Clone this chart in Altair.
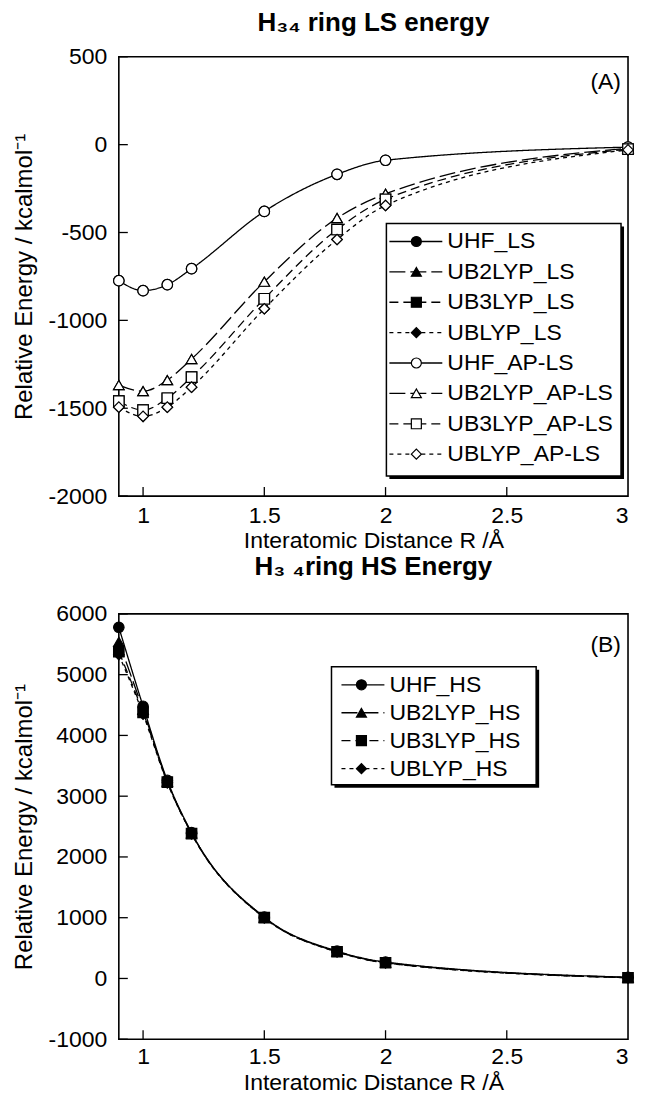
import altair as alt
import pandas as pd

# ---------------- data ----------------
R = [0.9, 1.0, 1.1, 1.2, 1.5, 1.8, 2.0, 3.0]

# Panel A: low-spin energies (kcal/mol)
UHF_LS = [-774, -831, -797, -706, -380, -169, -89, -14]
UB2LYP_LS = [-1368, -1403, -1340, -1220, -780, -418, -280, -20]
UB3LYP_LS = [-1460, -1511, -1443, -1323, -877, -483, -311, -25]
UBLYP_LS = [-1494, -1546, -1494, -1380, -934, -540, -346, -30]
UHF_APLS = [-774, -831, -797, -706, -380, -169, -89, -14]
UB2LYP_APLS = [-1368, -1403, -1340, -1220, -780, -418, -280, -20]
UB3LYP_APLS = [-1460, -1511, -1443, -1323, -877, -483, -311, -25]
UBLYP_APLS = [-1494, -1546, -1494, -1380, -934, -540, -346, -30]

# Panel B: high-spin energies (kcal/mol)
UHF_HS = [5780, 4480, 3260, 2400, 1010, 450, 270, 20]
UB2LYP_HS = [5540, 4420, 3240, 2390, 1000, 440, 262, 15]
UB3LYP_HS = [5380, 4380, 3230, 2385, 1000, 440, 258, 12]
UBLYP_HS = [5330, 4350, 3220, 2380, 995, 436, 255, 10]

methods = ["UHF", "UB2LYP", "UB3LYP", "UBLYP"]
ls_names = ["UHF_LS", "UB2LYP_LS", "UB3LYP_LS", "UBLYP_LS",
            "UHF_AP-LS", "UB2LYP_AP-LS", "UB3LYP_AP-LS", "UBLYP_AP-LS"]
ls_values = [UHF_LS, UB2LYP_LS, UB3LYP_LS, UBLYP_LS,
             UHF_APLS, UB2LYP_APLS, UB3LYP_APLS, UBLYP_APLS]
ls_kinds = ["filled"] * 4 + ["open"] * 4
hs_names = ["UHF_HS", "UB2LYP_HS", "UB3LYP_HS", "UBLYP_HS"]
hs_values = [UHF_HS, UB2LYP_HS, UB3LYP_HS, UBLYP_HS]

x_ticks = [1, 1.5, 2, 2.5, 3]
a_yticks = [-2000, -1500, -1000, -500, 0, 500]
b_yticks = [-1000, 0, 1000, 2000, 3000, 4000, 5000, 6000]

FONT = "Liberation Sans"
LFS = 23   # tick labels
TFS = 23   # axis titles
W = 510


def long_df(names, values, kinds):
    rows = []
    for n, vals, k in zip(names, values, kinds):
        m = n.split("_")[0]
        for r, e in zip(R, vals):
            rows.append({"name": n, "method": m, "kind": k, "R": r, "E": e})
    return pd.DataFrame(rows)


shape_scale = alt.Scale(domain=methods, range=["circle", "triangle-up", "square", "diamond"])
dash_scale = alt.Scale(domain=methods, range=[[1, 0], [16, 5], [9, 5], [4, 4]])
fill_scale = alt.Scale(domain=["filled", "open"], range=["black", "white"])


def panel(df, ydom, yticks, H, title, toff, lpad, tpad, tag, tag_xy, leg_names, leg_kinds, box, seg):
    xs = alt.Scale(domain=[0.9, 3.0], nice=False, zero=False)
    ys = alt.Scale(domain=ydom, nice=False, zero=False)
    xax = alt.Axis(values=x_ticks, format="~g", ticks=False, domain=False, grid=False,
                   labelFontSize=LFS, labelPadding=lpad, labelFlush=True,
                   title="Interatomic Distance R /Å", titleFontSize=TFS,
                   titleFontWeight="normal", titlePadding=tpad)
    yax = alt.Axis(values=yticks, ticks=False, domain=False, grid=False,
                   labelFontSize=LFS, labelPadding=12, labelExpr="'' + datum.value",
                   title="Relative Energy / kcalmol⁻¹", titleFontSize=24,
                   titleFontWeight="normal", titlePadding=12)

    base = alt.Chart(df)
    lines = base.transform_filter(alt.datum.kind == "filled").mark_line(
        interpolate="monotone", color="black", strokeWidth=1.3
    ).encode(
        x=alt.X("R:Q", scale=xs, axis=xax),
        y=alt.Y("E:Q", scale=ys, axis=yax),
        detail="name:N",
        strokeDash=alt.StrokeDash("method:N", scale=dash_scale, legend=None),
    )
    pts_f = base.transform_filter(alt.datum.kind == "filled").mark_point(
        filled=True, size=110, stroke="black", strokeWidth=1.2, opacity=1
    ).encode(
        x=alt.X("R:Q", scale=xs), y=alt.Y("E:Q", scale=ys),
        shape=alt.Shape("method:N", scale=shape_scale, legend=None),
        fill=alt.Fill("kind:N", scale=fill_scale, legend=None),
    )
    pts_o = base.transform_filter(alt.datum.kind == "open").mark_point(
        filled=True, size=110, stroke="black", strokeWidth=1.2, opacity=1
    ).encode(
        x=alt.X("R:Q", scale=xs), y=alt.Y("E:Q", scale=ys),
        shape=alt.Shape("method:N", scale=shape_scale, legend=None),
        fill=alt.Fill("kind:N", scale=fill_scale, legend=None),
    )
    ytk = alt.Chart(pd.DataFrame({"v": yticks})).mark_rule(color="black", strokeWidth=1.3).encode(
        y=alt.Y("v:Q", scale=ys), x=alt.value(0), x2=alt.value(9)
    )
    xtk = alt.Chart(pd.DataFrame({"v": x_ticks[:-1]})).mark_rule(color="black", strokeWidth=1.3).encode(
        x=alt.X("v:Q", scale=xs), y=alt.value(H), y2=alt.value(H - 9)
    )
    tagtxt = alt.Chart(pd.DataFrame({"t": [tag]})).mark_text(
        font=FONT, fontSize=23, align="right", baseline="middle", color="black"
    ).encode(x=alt.value(tag_xy[0]), y=alt.value(tag_xy[1]), text="t:N")

    data_layer = alt.layer(ytk, xtk, lines, pts_f, pts_o, tagtxt)

    # legend drawn inside the plot
    bl, bt, br, bb = box
    s0, s1, sm, tx, y0, y1 = seg
    ldf = pd.DataFrame({
        "name": leg_names,
        "method": [n.split("_")[0] for n in leg_names],
        "kind": leg_kinds,
        "idx": list(range(len(leg_names))),
    })
    ly = alt.Scale(domain=[0, len(leg_names) - 1], range=[y0, y1], nice=False, zero=False)
    lb = alt.Chart(ldf)
    shadow = alt.Chart(pd.DataFrame({"a": [0]})).mark_rect(fill="black").encode(
        x=alt.value(bl + 3), x2=alt.value(br + 3), y=alt.value(bt + 3), y2=alt.value(bb + 3))
    frame = alt.Chart(pd.DataFrame({"a": [0]})).mark_rect(
        fill="white", stroke="black", strokeWidth=1.5).encode(
        x=alt.value(bl), x2=alt.value(br), y=alt.value(bt), y2=alt.value(bb))
    lseg = lb.mark_rule(color="black", strokeWidth=1.3).encode(
        x=alt.value(s0), x2=alt.value(s1),
        y=alt.Y("idx:Q", scale=ly, axis=None),
        strokeDash=alt.StrokeDash("method:N", scale=dash_scale, legend=None),
    )
    lpt = lb.mark_point(filled=True, size=100, stroke="black", strokeWidth=1.2, opacity=1).encode(
        x=alt.value(sm),
        y=alt.Y("idx:Q", scale=ly, axis=None),
        shape=alt.Shape("method:N", scale=shape_scale, legend=None),
        fill=alt.Fill("kind:N", scale=fill_scale, legend=None),
    )
    ltx = lb.mark_text(font=FONT, fontSize=23, align="left", baseline="middle", color="black").encode(
        x=alt.value(tx), y=alt.Y("idx:Q", scale=ly, axis=None), text="name:N")
    leg_layer = alt.layer(shadow, frame, lseg, lpt, ltx)

    return alt.layer(data_layer, leg_layer).resolve_scale(y="independent").properties(
        width=W, height=H,
        title=alt.TitleParams(text=title, fontSize=26, fontWeight="bold", font=FONT,
                              anchor="middle", offset=toff, color="black"),
    )


dfA = long_df(ls_names, ls_values, ls_kinds)
dfB = long_df(hs_names, hs_values, ["filled"] * 4)

A = panel(dfA, [-2000, 500], a_yticks, 440, "H₃₄  ring LS energy", 10, 8, 2, "(A)", (503, 25),
          ls_names, ls_kinds, (268, 167, 503, 420), (271, 324, 298, 329, 185, 398))
B = panel(dfB, [-1000, 6000], b_yticks, 426, "H₃ ₄ring HS Energy", 23, 6, 3, "(B)", (503, 31),
          hs_names, ["filled"] * 4, (213, 53, 418, 171), (223, 266, 243, 271, 71, 155))

chart = alt.vconcat(A, B, spacing=0).configure(
    font=FONT, padding={"left": 3, "top": 0, "right": 0, "bottom": 0}
).configure_view(stroke="black", strokeWidth=1.6).configure_axis(
    labelColor="black", titleColor="black", labelFont=FONT, titleFont=FONT
)

chart.save("out.html", embed_options={"renderer": "svg", "actions": False})
